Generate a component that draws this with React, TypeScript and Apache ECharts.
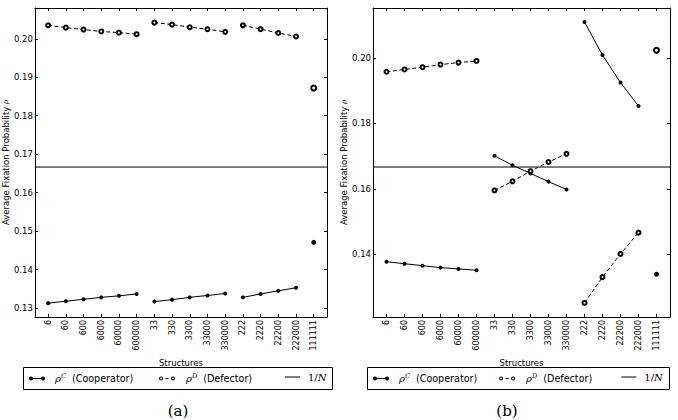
import React, { useEffect, useRef } from 'react';
import * as echarts from 'echarts';

// ---------- data ----------
const structures = ['6', '60', '600', '6000', '60000', '600000', '33', '330', '3300', '33000', '330000', '222', '2220', '22200', '222000', '111111'];
const structureGroup = [0, 0, 0, 0, 0, 0, 1, 1, 1, 1, 1, 2, 2, 2, 2, 3];

const leftCooperator = [0.1313, 0.1318, 0.1323, 0.1328, 0.1332, 0.1337, 0.1317, 0.1322, 0.1328, 0.1333, 0.1338, 0.1328, 0.1337, 0.1345, 0.1353, 0.1471];
const leftDefector = [0.2035, 0.2029, 0.2024, 0.2019, 0.2016, 0.2012, 0.2042, 0.2037, 0.2030, 0.2025, 0.2018, 0.2035, 0.2025, 0.2015, 0.2006, 0.1872];
const rightCooperator = [0.1377, 0.1371, 0.1365, 0.1359, 0.1355, 0.1351, 0.1701, 0.1672, 0.1647, 0.1622, 0.1598, 0.2110, 0.2009, 0.1925, 0.1853, 0.1339];
const rightDefector = [0.1958, 0.1965, 0.1972, 0.1980, 0.1986, 0.1991, 0.1595, 0.1623, 0.1654, 0.1682, 0.1707, 0.1251, 0.1330, 0.1401, 0.1466, 0.2024];

const populationN = 6;
const leftYTicks = [0.13, 0.14, 0.15, 0.16, 0.17, 0.18, 0.19, 0.20];
const rightYTicks = [0.14, 0.16, 0.18, 0.20];
const leftYRange = [0.1277, 0.2080];
const rightYRange = [0.1208, 0.2153];
const xRange = [-0.75, 15.75];
const xTicks = structures.map((_, i) => i);

const panelLabels = ['(a)', '(b)'];

const COOP = 'cooperator';
const DEF = 'defector';
const INV = 'inverseN';

const SANS = 'DejaVu Sans';
const SERIF = 'DejaVu Serif';

const coopIcon =
  'path://M0,2.5 A2,2 0 1,1 4,2.5 A2,2 0 1,1 0,2.5 Z M3.5,2 L12.5,2 L12.5,3 L3.5,3 Z M12,2.5 A2,2 0 1,1 16,2.5 A2,2 0 1,1 12,2.5 Z';
const defIcon =
  'path://M0,2.5 A2,2 0 1,1 4,2.5 A2,2 0 1,1 0,2.5 Z M1,2.5 A1,1 0 1,0 3,2.5 A1,1 0 1,0 1,2.5 Z M6.5,2 L9.5,2 L9.5,3 L6.5,3 Z M12,2.5 A2,2 0 1,1 16,2.5 A2,2 0 1,1 12,2.5 Z M13,2.5 A1,1 0 1,0 15,2.5 A1,1 0 1,0 13,2.5 Z';
const lineIcon = 'path://M0,0 L15,0 L15,1 L0,1 Z';

function groupSeries(values: number[], name: string, axis: number, kind: 'coop' | 'def') {
  const groups = Array.from(new Set(structureGroup));
  return groups.map((g) => {
    const pts = values.map((v, i) => [i, v]).filter((_, i) => structureGroup[i] === g);
    const single = pts.length === 1;
    return {
      type: 'line',
      name,
      xAxisIndex: axis,
      yAxisIndex: axis,
      data: pts,
      symbol: kind === 'coop' ? 'circle' : 'emptyCircle',
      symbolSize: single ? 5 : 4,
      itemStyle: { color: '#000', borderColor: '#000', borderWidth: kind === 'coop' ? 0 : 0.8 },
      lineStyle: { color: '#000', width: 1, type: kind === 'coop' ? 'solid' : [4, 2.5] },
      z: 3,
    };
  });
}

function xAxes(gridIndex: number) {
  const base = {
    type: 'value',
    gridIndex,
    min: xRange[0],
    max: xRange[1],
    splitLine: { show: false },
    axisLine: { show: true, onZero: false, lineStyle: { color: '#000', width: 1 } },
    axisTick: { show: true, inside: true, length: 3, customValues: xTicks, lineStyle: { color: '#000' } },
  };
  return [
    {
      ...base,
      position: 'bottom',
      name: 'Structures',
      nameLocation: 'middle',
      nameGap: 35,
      nameTextStyle: { fontFamily: SANS, fontSize: 8.5, color: '#000' },
      axisLabel: {
        show: true,
        rotate: 90,
        margin: 3,
        customValues: xTicks,
        fontFamily: SANS,
        fontSize: 8,
        color: '#000',
        formatter: (v: number) => structures[Math.round(v)] ?? '',
      },
    },
    { ...base, position: 'top', axisLabel: { show: false } },
  ];
}

function yAxes(gridIndex: number, range: number[], ticks: number[]) {
  const base = {
    type: 'value',
    gridIndex,
    min: range[0],
    max: range[1],
    splitLine: { show: false },
    axisLine: { show: true, onZero: false, lineStyle: { color: '#000', width: 1 } },
    axisTick: { show: true, inside: true, length: 3, customValues: ticks, lineStyle: { color: '#000' } },
  };
  return [
    {
      ...base,
      position: 'left',
      name: '{a|Average Fixation Probability }{r|ρ}',
      nameLocation: 'middle',
      nameGap: 22,
      nameTextStyle: {
        color: '#000',
        rich: {
          a: { fontFamily: SANS, fontSize: 8.5, color: '#000' },
          r: { fontFamily: SERIF, fontStyle: 'italic', fontSize: 7, color: '#000' },
        },
      },
      axisLabel: {
        show: true,
        margin: 2,
        customValues: ticks,
        fontFamily: SANS,
        fontSize: 8.5,
        color: '#000',
        formatter: (v: number) => v.toFixed(2),
      },
    },
    { ...base, position: 'right', axisLabel: { show: false } },
  ];
}

function legendItem(name: string, left: number, icon: string, w: number, h: number, text: string, textPad: number) {
  return {
    data: [name],
    left,
    top: 372,
    padding: 0,
    icon,
    itemWidth: w,
    itemHeight: h,
    selectedMode: false,
    itemStyle: { color: '#000', borderWidth: 0 },
    formatter: () => text,
    textStyle: {
      color: '#000',
      rich: {
        r: { fontFamily: SERIF, fontStyle: 'italic', fontSize: 10, color: '#000', padding: [0, 0, 0, textPad] },
        s: { fontFamily: SERIF, fontStyle: 'italic', fontSize: 6.5, color: '#000', verticalAlign: 'top', padding: [0, 0, 6, 0] },
        t: { fontFamily: SANS, fontSize: 9.6, color: '#000' },
        n: { fontFamily: SERIF, fontSize: 10, color: '#000', padding: [0, 0, 0, textPad] },
        ni: { fontFamily: SERIF, fontStyle: 'italic', fontSize: 10, color: '#000' },
      },
    },
  };
}

function panelLegends(o: number, k: number) {
  return [
    legendItem(COOP, o + 6, coopIcon, 16, 4, '{r|ρ}{s|C}{t|  (Cooperator)}', 5),
    legendItem(DEF, o + 6 + 130 * k, defIcon, 16, 4, '{r|ρ}{s|D}{t|  (Defector)}', 6),
    legendItem(INV, o + 6 + 256 * k, lineIcon, 15, 1, '{n|1/}{ni|N}', 3),
  ];
}

export default function App() {
  const ref = useRef<HTMLDivElement>(null);

  useEffect(() => {
    if (!ref.current) return;
    const chart = echarts.init(ref.current, null, { renderer: 'svg' });
    const invN = 1 / populationN;

    const option: any = {
      animation: false,
      backgroundColor: '#fff',
      grid: [
        { left: 29, right: 351, top: 8, bottom: 103 },
        { left: 373, right: 8, top: 8, bottom: 103 },
      ],
      xAxis: [...xAxes(0), ...xAxes(1)],
      yAxis: [...yAxes(0, leftYRange, leftYTicks), ...yAxes(1, rightYRange, rightYTicks)],
      legend: [...panelLegends(23, 1), ...panelLegends(367, 0.97)],
      graphic: [
        { type: 'rect', shape: { x: 23.5, y: 367.5, width: 309, height: 22 }, style: { fill: 'none', stroke: '#000', lineWidth: 1 }, z: 0 },
        { type: 'rect', shape: { x: 367.5, y: 367.5, width: 302, height: 22 }, style: { fill: 'none', stroke: '#000', lineWidth: 1 }, z: 0 },
        { type: 'text', x: 178, y: 411, style: { text: panelLabels[0], font: `15px "${SERIF}"`, fill: '#000', align: 'center', verticalAlign: 'middle' } },
        { type: 'text', x: 507, y: 411, style: { text: panelLabels[1], font: `15px "${SERIF}"`, fill: '#000', align: 'center', verticalAlign: 'middle' } },
      ],
      series: [
        ...groupSeries(leftCooperator, COOP, 0, 'coop'),
        ...groupSeries(leftDefector, DEF, 0, 'def'),
        {
          type: 'line', name: INV, xAxisIndex: 0, yAxisIndex: 0,
          data: [[xRange[0], invN], [xRange[1], invN]],
          symbol: 'none', lineStyle: { color: '#000', width: 1 }, itemStyle: { color: '#000' }, z: 2,
        },
        ...groupSeries(rightCooperator, COOP, 2, 'coop'),
        ...groupSeries(rightDefector, DEF, 2, 'def'),
        {
          type: 'line', name: INV, xAxisIndex: 2, yAxisIndex: 2,
          data: [[xRange[0], invN], [xRange[1], invN]],
          symbol: 'none', lineStyle: { color: '#000', width: 1 }, itemStyle: { color: '#000' }, z: 2,
        },
      ],
    };
    chart.setOption(option);
    return () => chart.dispose();
  }, []);

  return <div ref={ref} style={{ position: 'absolute', left: 0, top: 0, width: 678, height: 420 }} />;
}
